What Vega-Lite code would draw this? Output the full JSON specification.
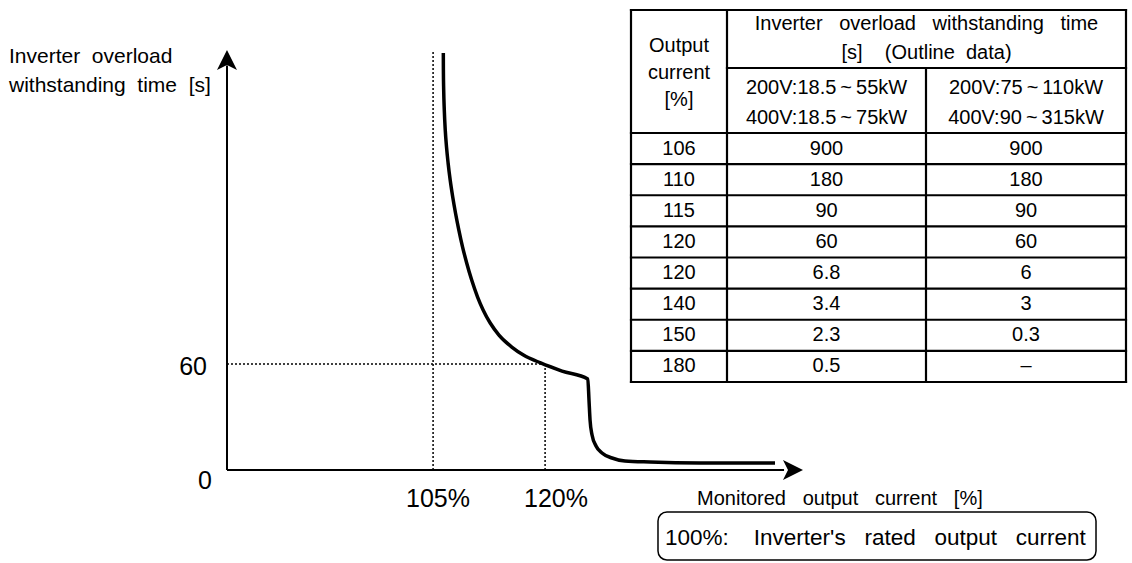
{
  "$schema": "https://vega.github.io/schema/vega-lite/v6.json",
  "width": 1132,
  "height": 563,
  "autosize": {"type": "none"},
  "padding": 0,
  "background": "white",
  "config": {
    "view": {"stroke": null},
    "text": {"font": "Liberation Sans", "color": "black"}
  },
  "datasets": {
    "curve": [
      {"pct": 106.37, "t": 236.0}, {"pct": 106.38, "t": 226.4}, {"pct": 106.42, "t": 215.1},
      {"pct": 106.5, "t": 203.8}, {"pct": 106.63, "t": 192.4}, {"pct": 106.8, "t": 182.8},
      {"pct": 107.01, "t": 173.8}, {"pct": 107.29, "t": 164.1}, {"pct": 107.63, "t": 154.5},
      {"pct": 108.0, "t": 145.5}, {"pct": 108.45, "t": 135.8}, {"pct": 108.95, "t": 126.2},
      {"pct": 109.5, "t": 117.2}, {"pct": 110.17, "t": 107.5}, {"pct": 110.96, "t": 97.9},
      {"pct": 111.7, "t": 90.6}, {"pct": 112.65, "t": 83.2}, {"pct": 113.82, "t": 76.4},
      {"pct": 115.54, "t": 69.6}, {"pct": 117.1, "t": 65.1}, {"pct": 119.4, "t": 60.6},
      {"pct": 122.27, "t": 56.0}, {"pct": 125.72, "t": 51.5}, {"pct": 125.88, "t": 39.6},
      {"pct": 126.02, "t": 28.3}, {"pct": 126.29, "t": 19.8}, {"pct": 126.82, "t": 13.6},
      {"pct": 127.62, "t": 9.6}, {"pct": 128.96, "t": 6.8}, {"pct": 130.7, "t": 5.1},
      {"pct": 134.05, "t": 4.5}, {"pct": 140.75, "t": 4.0}, {"pct": 150.79, "t": 4.0}
    ],
    "axislines": [
      {"x": 77.4, "y": 0, "x2": 77.4, "y2": 229},
      {"x": 77.4, "y": 0, "x2": 152, "y2": 0}
    ],
    "guides": [
      {"x": 105, "y": 0, "x2": 105, "y2": 237.7},
      {"x": 120, "y": 0, "x2": 120, "y2": 60},
      {"x": 77.4, "y": 60, "x2": 120, "y2": 60}
    ],
    "yarrow": [{"x": 77.4, "y": 232.1}],
    "xarrow": [{"x": 153.2, "y": 0}],
    "ylabels": [{"x": 74.72, "y": 58.5, "label": "60"}, {"x": 75.39, "y": -6.2, "label": "0"}],
    "xlabels": [{"x": 105.66, "y": -16.4, "label": "105%"}, {"x": 121.46, "y": -16.4, "label": "120%"}],
    "ytitle": [
      {"x": 48.2, "y": 230.4, "label": "Inverter\u00a0\u00a0overload"},
      {"x": 48.2, "y": 214.0, "label": "withstanding\u00a0\u00a0time\u00a0\u00a0[s]"}
    ],
    "xtitle": [{"x": 140.35, "y": -19.81, "label": "Monitored\u00a0\u00a0\u00a0output\u00a0\u00a0\u00a0current\u00a0\u00a0\u00a0[%]"}],
    "notebox": [{"x": 135.12, "x2": 193.78, "y": -23.77, "y2": -50.94}],
    "note": [{"x": 136.06, "y": -42.45, "label": "100%:\u00a0\u00a0\u00a0\u00a0Inverter's\u00a0\u00a0\u00a0rated\u00a0\u00a0\u00a0output\u00a0\u00a0\u00a0current"}],
    "tlines": [
      {"x": 0, "x2": 495, "y": -4.452, "y2": -4.452},
      {"x": 96, "x2": 495, "y": -2.588, "y2": -2.588},
      {"x": 0, "x2": 495, "y": -0.5, "y2": -0.5},
      {"x": 0, "x2": 495, "y": 0.5, "y2": 0.5},
      {"x": 0, "x2": 495, "y": 1.5, "y2": 1.5},
      {"x": 0, "x2": 495, "y": 2.5, "y2": 2.5},
      {"x": 0, "x2": 495, "y": 3.5, "y2": 3.5},
      {"x": 0, "x2": 495, "y": 4.5, "y2": 4.5},
      {"x": 0, "x2": 495, "y": 5.5, "y2": 5.5},
      {"x": 0, "x2": 495, "y": 6.5, "y2": 6.5},
      {"x": 0, "x2": 495, "y": 7.5, "y2": 7.5},
      {"x": 0, "x2": 0, "y": -4.452, "y2": 7.5},
      {"x": 96, "x2": 96, "y": -4.452, "y2": 7.5},
      {"x": 295, "x2": 295, "y": -2.588, "y2": 7.5},
      {"x": 495, "x2": 495, "y": -4.452, "y2": 7.5}
    ],
    "theader": [
      {"x": 295.5, "y": -4.0, "label": "Inverter\u00a0\u00a0\u00a0overload\u00a0\u00a0\u00a0withstanding\u00a0\u00a0\u00a0time"},
      {"x": 295.5, "y": -3.069, "label": "[s]\u00a0\u00a0\u00a0\u00a0(Outline\u00a0\u00a0data)"},
      {"x": 195.5, "y": -1.946, "label": "200V:18.5\u2009~\u200955kW"},
      {"x": 195.5, "y": -0.982, "label": "400V:18.5\u2009~\u200975kW"},
      {"x": 395, "y": -1.946, "label": "200V:75\u2009~\u2009110kW"},
      {"x": 395, "y": -0.982, "label": "400V:90\u2009~\u2009315kW"},
      {"x": 48, "y": -3.298, "label": "Output"},
      {"x": 48, "y": -2.429, "label": "current"},
      {"x": 48, "y": -1.561, "label": "[%]"}
    ],
    "rows": [
      {"row": 0, "current": "106", "small": "900", "large": "900"},
      {"row": 1, "current": "110", "small": "180", "large": "180"},
      {"row": 2, "current": "115", "small": "90", "large": "90"},
      {"row": 3, "current": "120", "small": "60", "large": "60"},
      {"row": 4, "current": "120", "small": "6.8", "large": "6"},
      {"row": 5, "current": "140", "small": "3.4", "large": "3"},
      {"row": 6, "current": "150", "small": "2.3", "large": "0.3"},
      {"row": 7, "current": "180", "small": "0.5", "large": "–"}
    ]
  },
  "layer": [
    {
      "layer": [
        {
          "data": {"name": "guides"},
          "mark": {"type": "rule", "color": "black", "strokeWidth": 1.5, "strokeDash": [2, 2]},
          "encoding": {
            "x": {"field": "x", "type": "quantitative", "scale": {"domain": [47, 198.6], "nice": false, "zero": false}, "axis": null},
            "x2": {"field": "x2"},
            "y": {"field": "y", "type": "quantitative", "scale": {"domain": [-52.64, 266.04], "nice": false, "zero": false}, "axis": null},
            "y2": {"field": "y2"}
          }
        },
        {
          "data": {"name": "axislines"},
          "mark": {"type": "rule", "color": "black", "strokeWidth": 2},
          "encoding": {
            "x": {"field": "x", "type": "quantitative", "scale": {"domain": [47, 198.6], "nice": false, "zero": false}, "axis": null},
            "x2": {"field": "x2"},
            "y": {"field": "y", "type": "quantitative", "scale": {"domain": [-52.64, 266.04], "nice": false, "zero": false}, "axis": null},
            "y2": {"field": "y2"}
          }
        },
        {
          "data": {"name": "yarrow"},
          "mark": {"type": "point", "shape": "M0,-1L1,1L0,0.5L-1,1Z", "size": 400, "filled": true, "color": "black", "opacity": 1, "strokeWidth": 0},
          "encoding": {
            "x": {"field": "x", "type": "quantitative", "scale": {"domain": [47, 198.6], "nice": false, "zero": false}, "axis": null},
            "y": {"field": "y", "type": "quantitative", "scale": {"domain": [-52.64, 266.04], "nice": false, "zero": false}, "axis": null}
          }
        },
        {
          "data": {"name": "xarrow"},
          "mark": {"type": "point", "shape": "M1,0L-1,-1L-0.5,0L-1,1Z", "size": 400, "filled": true, "color": "black", "opacity": 1, "strokeWidth": 0},
          "encoding": {
            "x": {"field": "x", "type": "quantitative", "scale": {"domain": [47, 198.6], "nice": false, "zero": false}, "axis": null},
            "y": {"field": "y", "type": "quantitative", "scale": {"domain": [-52.64, 266.04], "nice": false, "zero": false}, "axis": null}
          }
        },
        {
          "data": {"name": "curve"},
          "mark": {"type": "line", "color": "black", "strokeWidth": 3.5, "interpolate": "monotone"},
          "encoding": {
            "x": {"field": "pct", "type": "quantitative", "scale": {"domain": [47, 198.6], "nice": false, "zero": false}, "axis": null},
            "y": {"field": "t", "type": "quantitative", "scale": {"domain": [-52.64, 266.04], "nice": false, "zero": false}, "axis": null},
            "order": {"field": "pct", "type": "quantitative"}
          }
        },
        {
          "data": {"name": "ylabels"},
          "mark": {"type": "text", "align": "right", "baseline": "middle", "fontSize": 25},
          "encoding": {
            "x": {"field": "x", "type": "quantitative", "scale": {"domain": [47, 198.6], "nice": false, "zero": false}, "axis": null},
            "y": {"field": "y", "type": "quantitative", "scale": {"domain": [-52.64, 266.04], "nice": false, "zero": false}, "axis": null},
            "text": {"field": "label"}
          }
        },
        {
          "data": {"name": "xlabels"},
          "mark": {"type": "text", "align": "center", "baseline": "middle", "fontSize": 25},
          "encoding": {
            "x": {"field": "x", "type": "quantitative", "scale": {"domain": [47, 198.6], "nice": false, "zero": false}, "axis": null},
            "y": {"field": "y", "type": "quantitative", "scale": {"domain": [-52.64, 266.04], "nice": false, "zero": false}, "axis": null},
            "text": {"field": "label"}
          }
        },
        {
          "data": {"name": "ytitle"},
          "mark": {"type": "text", "align": "left", "baseline": "alphabetic", "fontSize": 21},
          "encoding": {
            "x": {"field": "x", "type": "quantitative", "scale": {"domain": [47, 198.6], "nice": false, "zero": false}, "axis": null},
            "y": {"field": "y", "type": "quantitative", "scale": {"domain": [-52.64, 266.04], "nice": false, "zero": false}, "axis": null},
            "text": {"field": "label"}
          }
        },
        {
          "data": {"name": "xtitle"},
          "mark": {"type": "text", "align": "left", "baseline": "alphabetic", "fontSize": 20},
          "encoding": {
            "x": {"field": "x", "type": "quantitative", "scale": {"domain": [47, 198.6], "nice": false, "zero": false}, "axis": null},
            "y": {"field": "y", "type": "quantitative", "scale": {"domain": [-52.64, 266.04], "nice": false, "zero": false}, "axis": null},
            "text": {"field": "label"}
          }
        },
        {
          "data": {"name": "notebox"},
          "mark": {"type": "rect", "filled": false, "stroke": "black", "strokeWidth": 1.5, "cornerRadius": 9},
          "encoding": {
            "x": {"field": "x", "type": "quantitative", "scale": {"domain": [47, 198.6], "nice": false, "zero": false}, "axis": null},
            "x2": {"field": "x2"},
            "y": {"field": "y", "type": "quantitative", "scale": {"domain": [-52.64, 266.04], "nice": false, "zero": false}, "axis": null},
            "y2": {"field": "y2"}
          }
        },
        {
          "data": {"name": "note"},
          "mark": {"type": "text", "align": "left", "baseline": "alphabetic", "fontSize": 22.5},
          "encoding": {
            "x": {"field": "x", "type": "quantitative", "scale": {"domain": [47, 198.6], "nice": false, "zero": false}, "axis": null},
            "y": {"field": "y", "type": "quantitative", "scale": {"domain": [-52.64, 266.04], "nice": false, "zero": false}, "axis": null},
            "text": {"field": "label"}
          }
        }
      ]
    },
    {
      "layer": [
        {
          "data": {"name": "tlines"},
          "mark": {"type": "rule", "color": "black", "strokeWidth": 2.2, "strokeCap": "square"},
          "encoding": {
            "x": {"field": "x", "type": "quantitative", "scale": {"domain": [-631, 501], "nice": false, "zero": false}, "axis": null},
            "x2": {"field": "x2"},
            "y": {"field": "y", "type": "quantitative", "scale": {"domain": [-4.773, 13.315], "nice": false, "zero": false, "reverse": true}, "axis": null},
            "y2": {"field": "y2"}
          }
        },
        {
          "data": {"name": "theader"},
          "mark": {"type": "text", "align": "center", "baseline": "middle", "fontSize": 20},
          "encoding": {
            "x": {"field": "x", "type": "quantitative", "scale": {"domain": [-631, 501], "nice": false, "zero": false}, "axis": null},
            "y": {"field": "y", "type": "quantitative", "scale": {"domain": [-4.773, 13.315], "nice": false, "zero": false, "reverse": true}, "axis": null},
            "text": {"field": "label"}
          }
        },
        {
          "data": {"name": "rows"},
          "mark": {"type": "text", "align": "center", "baseline": "middle", "fontSize": 20},
          "encoding": {
            "x": {"datum": 48, "type": "quantitative", "scale": {"domain": [-631, 501], "nice": false, "zero": false}, "axis": null},
            "y": {"field": "row", "type": "quantitative", "scale": {"domain": [-4.773, 13.315], "nice": false, "zero": false, "reverse": true}, "axis": null},
            "text": {"field": "current"}
          }
        },
        {
          "data": {"name": "rows"},
          "mark": {"type": "text", "align": "center", "baseline": "middle", "fontSize": 20},
          "encoding": {
            "x": {"datum": 195.5, "type": "quantitative", "scale": {"domain": [-631, 501], "nice": false, "zero": false}, "axis": null},
            "y": {"field": "row", "type": "quantitative", "scale": {"domain": [-4.773, 13.315], "nice": false, "zero": false, "reverse": true}, "axis": null},
            "text": {"field": "small"}
          }
        },
        {
          "data": {"name": "rows"},
          "mark": {"type": "text", "align": "center", "baseline": "middle", "fontSize": 20},
          "encoding": {
            "x": {"datum": 395, "type": "quantitative", "scale": {"domain": [-631, 501], "nice": false, "zero": false}, "axis": null},
            "y": {"field": "row", "type": "quantitative", "scale": {"domain": [-4.773, 13.315], "nice": false, "zero": false, "reverse": true}, "axis": null},
            "text": {"field": "large"}
          }
        }
      ]
    }
  ],
  "resolve": {"scale": {"x": "independent", "y": "independent"}}
}
